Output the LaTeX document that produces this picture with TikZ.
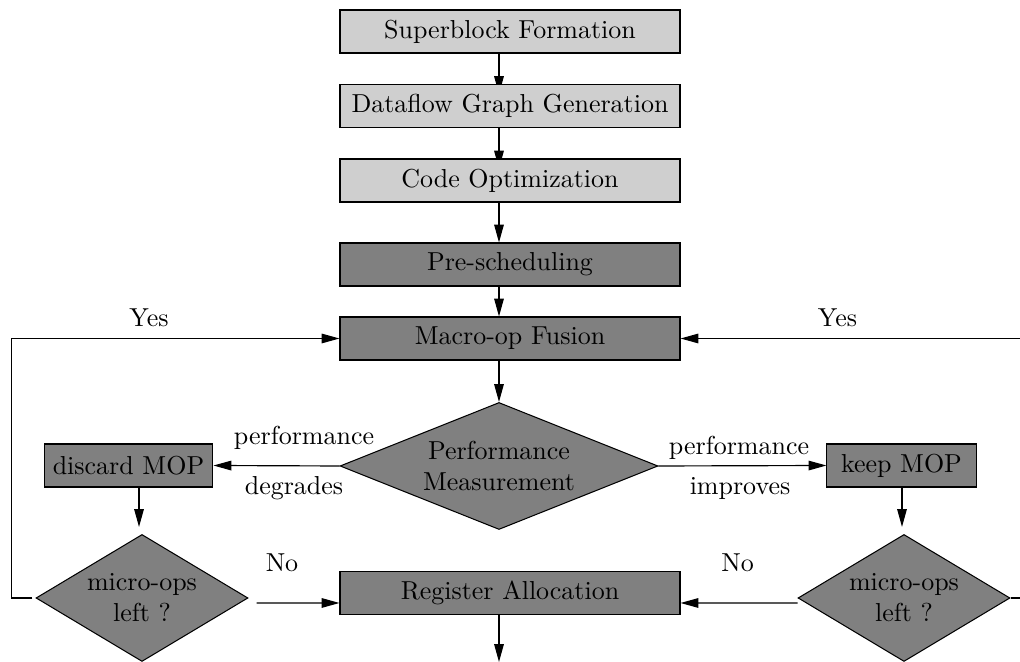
\documentclass[tikz,border=0pt]{standalone}
\usetikzlibrary{shapes.geometric,arrows.meta,calc,backgrounds}
\begin{document}
\begin{tikzpicture}[x=0.385pt,y=-0.385pt,
  stage/.style={draw=black,rectangle,inner sep=0pt,minimum width=130.9pt,minimum height=16.55pt},
  prep/.style={stage,fill=black!19},
  core/.style={stage,fill=black!50},
  mop/.style={draw=black,rectangle,fill=black!50,inner sep=0pt,minimum height=16.55pt},
  test/.style={draw=black,diamond,fill=black!50,inner sep=0pt,align=center,minimum height=48.9pt},
  flow/.style={-{Triangle[length=6.9pt,width=3.7pt]},line width=0.45pt},
  lbl/.style={anchor=base,inner sep=0pt}]
\useasboundingbox (0,0) rectangle (1020,662);
\clip (0,0) rectangle (1020,662);

% front-end stages
\node[prep] (sb)  at (510,31.5)  {Superblock Formation};
\node[prep] (dfg) at (510,106)   {Dataflow Graph Generation};
\node[prep] (opt) at (510,180.5) {Code Optimization};
\node[core] (pre) at (510,264.5) {Pre-scheduling};
\node[core] (fus) at (510,338.5) {Macro-op Fusion};

% measurement and decisions
\node[test,minimum width=122.4pt,shape aspect=2.5] (perf) at (499,466) {Performance\\Measurement};
\node[mop,minimum width=65pt]   (disc) at (128.5,465.5) {discard MOP};
\node[mop,minimum width=57.4pt] (keep) at (901.5,465.5) {keep MOP};
\node[test,minimum width=81.6pt,shape aspect=1.67] (lchk) at (142,598) {micro-ops\\left ?};
\node[test,minimum width=81.6pt,shape aspect=1.67] (rchk) at (904,598) {micro-ops\\left ?};
\node[core] (reg) at (510,593) {Register Allocation};
\coordinate (out) at (499,662);

% main chain (the two short hops run under the next box)
\begin{scope}[on background layer]
\draw[flow] (sb.south -| perf)  -- ([yshift=-3.9pt]dfg.north -| perf);
\draw[flow] (dfg.south -| perf) -- ([yshift=-3.9pt]opt.north -| perf);
\end{scope}
\draw[flow] (opt.south -| perf) -- (pre.north -| perf);
\draw[flow] (pre.south -| perf) -- (fus.north -| perf);
\draw[flow] (fus.south -| perf) -- (perf.north);

% outcome branches
\draw[flow] (perf.west) -- (disc.east);
\draw[flow] (perf.east) -- (keep.west);
\draw[flow] ([xshift=-1.15pt]lchk.north |- disc.south) -- ([xshift=-1.15pt,yshift=2.7pt]lchk.north);
\draw[flow] ([xshift=-0.77pt]rchk.north |- keep.south) -- ([xshift=-0.77pt,yshift=2.7pt]rchk.north);

% loops back to fusion
\draw[flow] ([xshift=-1.2pt]lchk.west) -- ++(-21,0) |- (fus.west);
\draw[flow] (rchk.east) -- ++(30,0) |- (fus.east);

% exits to register allocation
\draw[flow] ([xshift=3.1pt,yshift=-1.9pt]lchk.east) -- ([yshift=-3.85pt]reg.west);
\draw[flow] ([yshift=-1.9pt]rchk.west) -- ([yshift=-3.85pt]reg.east);
\draw[flow] (reg.south -| perf) -- (out);

% edge labels
\node[lbl] (yesl) at (149,327) {Yes};
\node[lbl] (yesr) at (837.5,327) {Yes};
\node[lbl] (pfl)  at (304,445) {performance};
\node[lbl] (dgr)  at (294,495) {degrades};
\node[lbl] (pfr)  at (739,455) {performance};
\node[lbl] (imp)  at (740,495) {improves};
\node[lbl] (nol)  at (282,572) {No};
\node[lbl] (nor)  at (737.5,572) {No};
\end{tikzpicture}
\end{document}
